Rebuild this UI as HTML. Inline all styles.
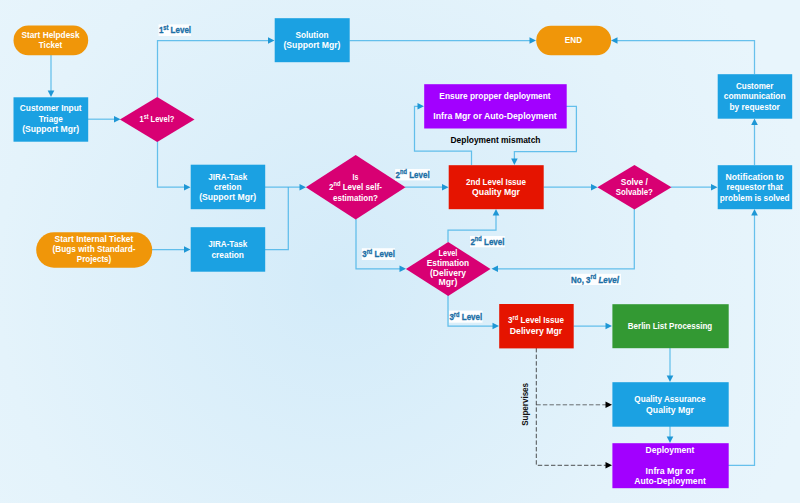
<!DOCTYPE html>
<html><head><meta charset="utf-8"><title>Flowchart</title>
<style>
html,body{margin:0;padding:0;}
body{width:800px;height:503px;overflow:hidden;background:#e4f3fb;}
#bg{position:absolute;left:0;top:0;width:800px;height:503px;
 background:radial-gradient(circle 480px at 338px 282px,#d3ebf9 0%,#e4f3fb 71%,#e8f5fc 100%);}
svg{position:absolute;left:0;top:0;}
text{font-family:"Liberation Sans",sans-serif;font-weight:bold;font-size:8.9px;}
</style></head><body><div id="bg"></div>
<svg width="800" height="503" viewBox="0 0 800 503">
<path d="M51,55 L51,92" fill="none" stroke="#1ba1e2" stroke-width="1.25" stroke-opacity="0.63"/>
<polygon points="51,97 47.7,90.5 54.3,90.5" fill="#1f97d5"/>
<path d="M88,119.2 L115,119.2" fill="none" stroke="#1ba1e2" stroke-width="1.25" stroke-opacity="0.63"/>
<polygon points="120.5,119.2 114.0,115.9 114.0,122.5" fill="#1f97d5"/>
<path d="M157.5,97 L157.5,40.5 L270,40.5" fill="none" stroke="#1ba1e2" stroke-width="1.25" stroke-opacity="0.63"/>
<polygon points="274.5,40.5 268.0,37.2 268.0,43.8" fill="#1f97d5"/>
<path d="M157.5,141 L157.5,187.2 L186,187.2" fill="none" stroke="#1ba1e2" stroke-width="1.25" stroke-opacity="0.63"/>
<polygon points="190.5,187.2 184.0,183.89999999999998 184.0,190.5" fill="#1f97d5"/>
<path d="M265,187.2 L301,187.2" fill="none" stroke="#1ba1e2" stroke-width="1.25" stroke-opacity="0.63"/>
<polygon points="306,187.2 299.5,183.89999999999998 299.5,190.5" fill="#1f97d5"/>
<path d="M152,249.5 L186,249.5" fill="none" stroke="#1ba1e2" stroke-width="1.25" stroke-opacity="0.63"/>
<polygon points="190.5,249.5 184.0,246.2 184.0,252.8" fill="#1f97d5"/>
<path d="M265,249.5 L288.3,249.5 L288.3,187.2" fill="none" stroke="#1ba1e2" stroke-width="1.25" stroke-opacity="0.63"/>
<path d="M349.5,40.5 L531,40.5" fill="none" stroke="#1ba1e2" stroke-width="1.25" stroke-opacity="0.63"/>
<polygon points="536,40.5 529.5,37.2 529.5,43.8" fill="#1f97d5"/>
<path d="M405,187.2 L444,187.2" fill="none" stroke="#1ba1e2" stroke-width="1.25" stroke-opacity="0.63"/>
<polygon points="448.5,187.2 442.0,183.89999999999998 442.0,190.5" fill="#1f97d5"/>
<path d="M356,219 L356,268.8 L401,268.8" fill="none" stroke="#1ba1e2" stroke-width="1.25" stroke-opacity="0.63"/>
<polygon points="406,268.8 399.5,265.5 399.5,272.1" fill="#1f97d5"/>
<path d="M448,242 L448,230 L496,230 L496,214" fill="none" stroke="#1ba1e2" stroke-width="1.25" stroke-opacity="0.63"/>
<polygon points="496,209 492.7,215.5 499.3,215.5" fill="#1f97d5"/>
<path d="M448,295 L448,326 L494,326" fill="none" stroke="#1ba1e2" stroke-width="1.25" stroke-opacity="0.63"/>
<polygon points="499,326 492.5,322.7 492.5,329.3" fill="#1f97d5"/>
<path d="M471.5,165 L471.5,151.2 L414.5,151.2 L414.5,106.3 L419,106.3" fill="none" stroke="#1ba1e2" stroke-width="1.25" stroke-opacity="0.63"/>
<polygon points="424,106.3 417.5,103.0 417.5,109.6" fill="#1f97d5"/>
<path d="M566,106.3 L576.4,106.3 L576.4,151.6 L514.4,151.6 L514.4,160" fill="none" stroke="#1ba1e2" stroke-width="1.25" stroke-opacity="0.63"/>
<polygon points="514.4,165 511.09999999999997,158.5 517.6999999999999,158.5" fill="#1f97d5"/>
<path d="M543.5,187.2 L593,187.2" fill="none" stroke="#1ba1e2" stroke-width="1.25" stroke-opacity="0.63"/>
<polygon points="597.5,187.2 591.0,183.89999999999998 591.0,190.5" fill="#1f97d5"/>
<path d="M671,187.2 L713,187.2" fill="none" stroke="#1ba1e2" stroke-width="1.25" stroke-opacity="0.63"/>
<polygon points="717.5,187.2 711.0,183.89999999999998 711.0,190.5" fill="#1f97d5"/>
<path d="M634.3,209 L634.3,268.8 L496,268.8" fill="none" stroke="#1ba1e2" stroke-width="1.25" stroke-opacity="0.63"/>
<polygon points="491.5,268.8 498.0,265.5 498.0,272.1" fill="#1f97d5"/>
<path d="M754.5,165 L754.5,123" fill="none" stroke="#1ba1e2" stroke-width="1.25" stroke-opacity="0.63"/>
<polygon points="754.5,118.5 751.2,125.0 757.8,125.0" fill="#1f97d5"/>
<path d="M754.5,74 L754.5,40.5 L616,40.5" fill="none" stroke="#1ba1e2" stroke-width="1.25" stroke-opacity="0.63"/>
<polygon points="611,40.5 617.5,37.2 617.5,43.8" fill="#1f97d5"/>
<path d="M573.5,326 L607,326" fill="none" stroke="#1ba1e2" stroke-width="1.25" stroke-opacity="0.63"/>
<polygon points="612,326 605.5,322.7 605.5,329.3" fill="#1f97d5"/>
<path d="M670,348 L670,377" fill="none" stroke="#1ba1e2" stroke-width="1.25" stroke-opacity="0.63"/>
<polygon points="670,382 666.7,375.5 673.3,375.5" fill="#1f97d5"/>
<path d="M670,426 L670,438" fill="none" stroke="#1ba1e2" stroke-width="1.25" stroke-opacity="0.63"/>
<polygon points="670,443 666.7,436.5 673.3,436.5" fill="#1f97d5"/>
<path d="M728,465.3 L754.5,465.3 L754.5,214" fill="none" stroke="#1ba1e2" stroke-width="1.25" stroke-opacity="0.63"/>
<polygon points="754.5,209 751.2,215.5 757.8,215.5" fill="#1f97d5"/>
<path d="M536.3,348 L536.3,465.3 L606,465.3" fill="none" stroke="#333" stroke-width="1" stroke-opacity="0.85" stroke-dasharray="4.4,2.2"/>
<path d="M536.3,404.8 L606,404.8" fill="none" stroke="#333" stroke-width="1" stroke-opacity="0.7" stroke-dasharray="4.4,2.2"/>
<polygon points="612,404.8 605.5,401.5 605.5,408.1" fill="#000"/>
<polygon points="612,465.3 605.5,462.0 605.5,468.6" fill="#000"/>
<rect x="13.5" y="25.5" width="74.7" height="29.800000000000004" rx="14.900000000000002" ry="14.900000000000002" fill="#f09609"/>
<text x="50.5" y="37.9" text-anchor="middle" textLength="58.1" lengthAdjust="spacingAndGlyphs" fill="#fff" >Start Helpdesk</text>
<text x="50.5" y="48.3" text-anchor="middle" textLength="23.4" lengthAdjust="spacingAndGlyphs" fill="#fff" >Ticket</text>
<rect x="13.5" y="97.3" width="74.7" height="44.39999999999999" fill="#1ba1e2"/>
<text x="50.7" y="111.4" text-anchor="middle" textLength="61.8" lengthAdjust="spacingAndGlyphs" fill="#fff" >Customer Input</text>
<text x="50.7" y="121.8" text-anchor="middle" textLength="24.1" lengthAdjust="spacingAndGlyphs" fill="#fff" >Triage</text>
<text x="50.7" y="132.2" text-anchor="middle" textLength="57" lengthAdjust="spacingAndGlyphs" fill="#fff" >(Support Mgr)</text>
<polygon points="119.9,119.45 157.2,97.0 194.5,119.45 157.2,141.9" fill="#d80073"/>
<text x="157" y="122.3" text-anchor="middle" textLength="34.8" lengthAdjust="spacingAndGlyphs" fill="#fff" >1<tspan dy="-3.8" font-size="6.3">st</tspan><tspan dy="3.8"> </tspan>Level?</text>
<rect x="274.7" y="18.2" width="75.0" height="44.0" fill="#1ba1e2"/>
<text x="312" y="37.9" text-anchor="middle" textLength="33" lengthAdjust="spacingAndGlyphs" fill="#fff" >Solution</text>
<text x="312" y="48.3" text-anchor="middle" textLength="57" lengthAdjust="spacingAndGlyphs" fill="#fff" >(Support Mgr)</text>
<rect x="190.7" y="164.7" width="74.5" height="44.5" fill="#1ba1e2"/>
<text x="227.7" y="179.5" text-anchor="middle" textLength="39" lengthAdjust="spacingAndGlyphs" fill="#fff" >JIRA-Task</text>
<text x="227.7" y="189.9" text-anchor="middle" textLength="27.5" lengthAdjust="spacingAndGlyphs" fill="#fff" >cretion</text>
<text x="227.7" y="200.3" text-anchor="middle" textLength="57" lengthAdjust="spacingAndGlyphs" fill="#fff" >(Support Mgr)</text>
<rect x="190.7" y="227.2" width="74.5" height="44.5" fill="#1ba1e2"/>
<text x="227.7" y="247.1" text-anchor="middle" textLength="39" lengthAdjust="spacingAndGlyphs" fill="#fff" >JIRA-Task</text>
<text x="227.7" y="257.5" text-anchor="middle" textLength="32.5" lengthAdjust="spacingAndGlyphs" fill="#fff" >creation</text>
<rect x="36.2" y="232.2" width="115.99999999999999" height="35.5" rx="17.75" ry="17.75" fill="#f09609"/>
<text x="94" y="241.95" text-anchor="middle" textLength="78.8" lengthAdjust="spacingAndGlyphs" fill="#fff" >Start Internal Ticket</text>
<text x="94" y="252.2" text-anchor="middle" textLength="83" lengthAdjust="spacingAndGlyphs" fill="#fff" >(Bugs with Standard-</text>
<text x="94" y="262.45" text-anchor="middle" textLength="34.5" lengthAdjust="spacingAndGlyphs" fill="#fff" >Projects)</text>
<polygon points="305.9,187.2 355.7,155.0 405.5,187.2 355.7,219.4" fill="#d80073"/>
<text x="355.5" y="179.7" text-anchor="middle" textLength="5.8" lengthAdjust="spacingAndGlyphs" fill="#fff" >Is</text>
<text x="355.5" y="190.1" text-anchor="middle" textLength="53" lengthAdjust="spacingAndGlyphs" fill="#fff" >2<tspan dy="-3.8" font-size="6.3">nd</tspan><tspan dy="3.8"> </tspan>Level self-</text>
<text x="355.5" y="200.5" text-anchor="middle" textLength="45" lengthAdjust="spacingAndGlyphs" fill="#fff" >estimation?</text>
<rect x="424.2" y="84.2" width="142.50000000000006" height="44.3" fill="#a200ff"/>
<text x="495" y="98.95" text-anchor="middle" textLength="111.3" lengthAdjust="spacingAndGlyphs" fill="#fff" >Ensure propper deployment</text>
<text x="495" y="118.55" text-anchor="middle" textLength="123.3" lengthAdjust="spacingAndGlyphs" fill="#fff" >Infra Mgr or Auto-Deployment</text>
<rect x="448.7" y="165.2" width="95.00000000000006" height="44.0" fill="#e51400"/>
<text x="496" y="184.5" text-anchor="middle" textLength="60" lengthAdjust="spacingAndGlyphs" fill="#fff" >2nd Level Issue</text>
<text x="496" y="194.9" text-anchor="middle" textLength="47.8" lengthAdjust="spacingAndGlyphs" fill="#fff" >Quality Mgr</text>
<polygon points="405.9,268.95 448.2,242.0 490.5,268.95 448.2,295.9" fill="#d80073"/>
<text x="448" y="255.75" text-anchor="middle" textLength="18.8" lengthAdjust="spacingAndGlyphs" fill="#fff" >Level</text>
<text x="448" y="265.65" text-anchor="middle" textLength="42.3" lengthAdjust="spacingAndGlyphs" fill="#fff" >Estimation</text>
<text x="448" y="275.55" text-anchor="middle" textLength="36" lengthAdjust="spacingAndGlyphs" fill="#fff" >(Delivery</text>
<text x="448" y="285.45" text-anchor="middle" textLength="18.8" lengthAdjust="spacingAndGlyphs" fill="#fff" >Mgr)</text>
<polygon points="597.4,187.2 634.45,165.0 671.5,187.2 634.45,209.4" fill="#d80073"/>
<text x="634.3" y="184.9" text-anchor="middle" textLength="27" lengthAdjust="spacingAndGlyphs" fill="#fff" >Solve /</text>
<text x="634.3" y="195.3" text-anchor="middle" textLength="37" lengthAdjust="spacingAndGlyphs" fill="#fff" >Solvable?</text>
<rect x="536.2" y="25.7" width="75.0" height="29.500000000000004" rx="14.750000000000002" ry="14.750000000000002" fill="#f09609"/>
<text x="573.5" y="43.1" text-anchor="middle" textLength="17.3" lengthAdjust="spacingAndGlyphs" fill="#fff" >END</text>
<rect x="717.7" y="74.2" width="74.5" height="44.5" fill="#1ba1e2"/>
<text x="754.7" y="88.9" text-anchor="middle" textLength="37.5" lengthAdjust="spacingAndGlyphs" fill="#fff" >Customer</text>
<text x="754.7" y="99.3" text-anchor="middle" textLength="61.8" lengthAdjust="spacingAndGlyphs" fill="#fff" >communication</text>
<text x="754.7" y="109.7" text-anchor="middle" textLength="50.3" lengthAdjust="spacingAndGlyphs" fill="#fff" >by requestor</text>
<rect x="717.7" y="165.2" width="74.5" height="44.0" fill="#1ba1e2"/>
<text x="754.7" y="179.7" text-anchor="middle" textLength="58.3" lengthAdjust="spacingAndGlyphs" fill="#fff" >Notification to</text>
<text x="754.7" y="190.1" text-anchor="middle" textLength="56.3" lengthAdjust="spacingAndGlyphs" fill="#fff" >requestor that</text>
<text x="754.7" y="200.5" text-anchor="middle" textLength="69.8" lengthAdjust="spacingAndGlyphs" fill="#fff" >problem is solved</text>
<rect x="499.2" y="304.0" width="74.50000000000006" height="44.39999999999998" fill="#e51400"/>
<text x="536" y="323.4" text-anchor="middle" textLength="55.8" lengthAdjust="spacingAndGlyphs" fill="#fff" >3<tspan dy="-3.8" font-size="6.3">rd</tspan><tspan dy="3.8"> </tspan>Level Issue</text>
<text x="536" y="333.8" text-anchor="middle" textLength="52.5" lengthAdjust="spacingAndGlyphs" fill="#fff" >Delivery Mgr</text>
<rect x="612.4000000000001" y="304.2" width="116.29999999999995" height="44.0" fill="#339933"/>
<text x="670" y="329.1" text-anchor="middle" textLength="84.3" lengthAdjust="spacingAndGlyphs" fill="#fff" >Berlin List Processing</text>
<rect x="612.4000000000001" y="382.2" width="116.29999999999995" height="44.5" fill="#1ba1e2"/>
<text x="670" y="402.1" text-anchor="middle" textLength="71.3" lengthAdjust="spacingAndGlyphs" fill="#fff" >Quality Assurance</text>
<text x="670" y="412.5" text-anchor="middle" textLength="47.8" lengthAdjust="spacingAndGlyphs" fill="#fff" >Quality Mgr</text>
<rect x="612.4000000000001" y="443.2" width="116.29999999999995" height="45.0" fill="#a200ff"/>
<text x="670" y="452.8" text-anchor="middle" textLength="48.8" lengthAdjust="spacingAndGlyphs" fill="#fff" >Deployment</text>
<text x="670" y="473.6" text-anchor="middle" textLength="48.8" lengthAdjust="spacingAndGlyphs" fill="#fff" >Infra Mgr or</text>
<text x="670" y="484.0" text-anchor="middle" textLength="71.5" lengthAdjust="spacingAndGlyphs" fill="#fff" >Auto-Deployment</text>
<rect x="158.5" y="24.4" width="32.5" height="11.600000000000001" fill="#fff" fill-opacity="0.93"/>
<text transform="translate(158.9,33.3) scale(0.9,1)" text-anchor="start" fill="#1b6fa6"  stroke="#1b6fa6" stroke-width="0.32">1<tspan dy="-3.8" font-size="6.3">st</tspan><tspan dy="3.8"> </tspan>Level</text>
<rect x="395.2" y="169" width="34.80000000000001" height="11.400000000000006" fill="#fff" fill-opacity="0.93"/>
<text transform="translate(395.59999999999997,177.9) scale(0.9,1)" text-anchor="start" fill="#1b6fa6"  stroke="#1b6fa6" stroke-width="0.32">2<tspan dy="-3.8" font-size="6.3">nd</tspan><tspan dy="3.8"> </tspan>Level</text>
<rect x="361.8" y="248.2" width="33.19999999999999" height="11.800000000000011" fill="#fff" fill-opacity="0.93"/>
<text transform="translate(362.2,257.3) scale(0.9,1)" text-anchor="start" fill="#1b6fa6"  stroke="#1b6fa6" stroke-width="0.32">3<tspan dy="-3.8" font-size="6.3">rd</tspan><tspan dy="3.8"> </tspan>Level</text>
<rect x="470" y="236" width="34.80000000000001" height="11.300000000000011" fill="#fff" fill-opacity="0.93"/>
<text transform="translate(470.4,244.8) scale(0.9,1)" text-anchor="start" fill="#1b6fa6"  stroke="#1b6fa6" stroke-width="0.32">2<tspan dy="-3.8" font-size="6.3">nd</tspan><tspan dy="3.8"> </tspan>Level</text>
<rect x="449" y="310.6" width="33.5" height="12.099999999999966" fill="#fff" fill-opacity="0.93"/>
<text transform="translate(449.4,320.3) scale(0.9,1)" text-anchor="start" fill="#1b6fa6"  stroke="#1b6fa6" stroke-width="0.32">3<tspan dy="-3.8" font-size="6.3">rd</tspan><tspan dy="3.8"> </tspan>Level</text>
<rect x="570.6" y="273.8" width="50.39999999999998" height="11.199999999999989" fill="#fff" fill-opacity="0.93"/>
<text transform="translate(571.0,282.5) scale(0.9,1)" text-anchor="start" fill="#1b6fa6"  stroke="#1b6fa6" stroke-width="0.32">No, 3<tspan dy="-3.8" font-size="6.3">rd</tspan><tspan dy="3.8"> </tspan><tspan font-style="italic">Level</tspan></text>
<text x="495.5" y="142.6" text-anchor="middle" textLength="90" lengthAdjust="spacingAndGlyphs" fill="#000" >Deployment mismatch</text>
<text transform="translate(527.7,404.4) rotate(-90) scale(0.905,1)" text-anchor="middle" fill="#111">Supervises</text>
</svg></body></html>
